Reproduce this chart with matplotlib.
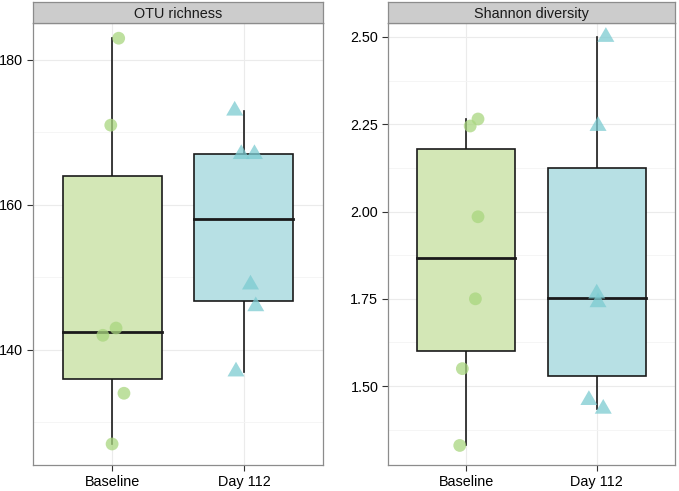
import matplotlib
matplotlib.use("Agg")
import matplotlib.pyplot as plt
import numpy as np

plt.rcParams['font.family'] = ['Liberation Sans', 'DejaVu Sans']

groups = ["Baseline", "Day 112"]
panel_titles = ["OTU richness", "Shannon diversity"]

# values, one list per group
richness_base = [183, 171, 143, 142, 134, 127]
richness_d112 = [173, 167, 167, 149, 146, 137]
shannon_base = [2.265, 2.245, 1.985, 1.75, 1.55, 1.33]
shannon_d112 = [2.50, 2.245, 1.765, 1.74, 1.46, 1.435]

# horizontal jitter of each point (in category units), as seen
jit_rich_base = [0.05, -0.01, 0.03, -0.07, 0.09, 0.0]
jit_rich_d112 = [-0.07, -0.02, 0.08, 0.05, 0.09, -0.06]
jit_shan_base = [0.09, 0.03, 0.09, 0.07, -0.03, -0.05]
jit_shan_d112 = [0.07, 0.01, 0.0, 0.01, -0.06, 0.05]

rich_ticks = [140, 160, 180]
shan_ticks = [1.50, 1.75, 2.00, 2.25, 2.50]

fills = ["#d3e7b6", "#b7e0e4"]
pt_cols = ["#a9d67f", "#7ccbd1"]

tri = [(0, 1), (-0.866, -0.5), (0.866, -0.5), (0, 1)]
markers = ["o", tri]
sizes = [85, 200]


def quart(v):
    return np.percentile(v, [0, 25, 50, 75, 100])


def panel(ax, data, jitters, ylim, ticks, fmt, title):
    ax.set_facecolor("white")
    ax.set_yticks(ticks)
    step = ticks[1] - ticks[0]
    minor = [t + step / 2 for t in [ticks[0] - step] + ticks]
    ax.set_yticks(minor, minor=True)
    ax.set_xticks([1, 2])
    ax.set_xticklabels(groups)
    ax.set_xlim(0.4, 2.6)
    ax.set_ylim(*ylim)
    ax.yaxis.set_major_formatter(plt.FuncFormatter(lambda v, p: fmt.format(v)))
    ax.grid(True, which="major", color="#ebebeb", lw=0.8)
    ax.grid(True, which="minor", axis="y", color="#f4f4f4", lw=0.6)
    ax.set_axisbelow(True)
    for s in ax.spines.values():
        s.set_color("#8c8c8c")
        s.set_linewidth(0.9)
    ax.tick_params(which="major", length=4, color="#333333", labelsize=10.4,
                   labelcolor="black", pad=3)
    ax.tick_params(which="minor", length=0)

    for i, (vals, jit) in enumerate(zip(data, jitters)):
        x = i + 1
        lo, q1, med, q3, hi = quart(vals)
        w = 0.375
        ax.plot([x, x], [lo, q1], color="#1a1a1a", lw=1.2, zorder=2)
        ax.plot([x, x], [q3, hi], color="#1a1a1a", lw=1.2, zorder=2)
        ax.add_patch(plt.Rectangle((x - w, q1), 2 * w, q3 - q1, facecolor=fills[i],
                                   edgecolor="#1a1a1a", lw=1.2, zorder=2))
        ax.plot([x - w, x + w], [med, med], color="#1a1a1a", lw=2.0, zorder=3)
        ax.scatter(np.array(jit) + x, vals, s=sizes[i],
                   marker=markers[i], color=pt_cols[i], alpha=0.75,
                   edgecolors="none", zorder=4)

    # strip on top
    strip = ax.inset_axes([0, 1.0, 1, 0.0475])
    strip.set_facecolor("#cccccc")
    strip.set_xticks([])
    strip.set_yticks([])
    for s in strip.spines.values():
        s.set_color("#8c8c8c")
        s.set_linewidth(0.9)
    strip.text(0.5, 0.45, title, ha="center", va="center", fontsize=10.4,
               color="#1a1a1a", transform=strip.transAxes)


fig = plt.figure(figsize=(6.79, 4.91), dpi=100)
ax1 = fig.add_axes([33 / 679, 26 / 491, 290 / 679, 442 / 491])
ax2 = fig.add_axes([388 / 679, 26 / 491, 287 / 679, 442 / 491])

panel(ax1, [richness_base, richness_d112], [jit_rich_base, jit_rich_d112],
      (124.1, 185.1), rich_ticks, "{:.0f}", panel_titles[0])
panel(ax2, [shannon_base, shannon_d112], [jit_shan_base, jit_shan_d112],
      (1.274, 2.54), shan_ticks, "{:.2f}", panel_titles[1])

fig.savefig("out.png", dpi=100)
